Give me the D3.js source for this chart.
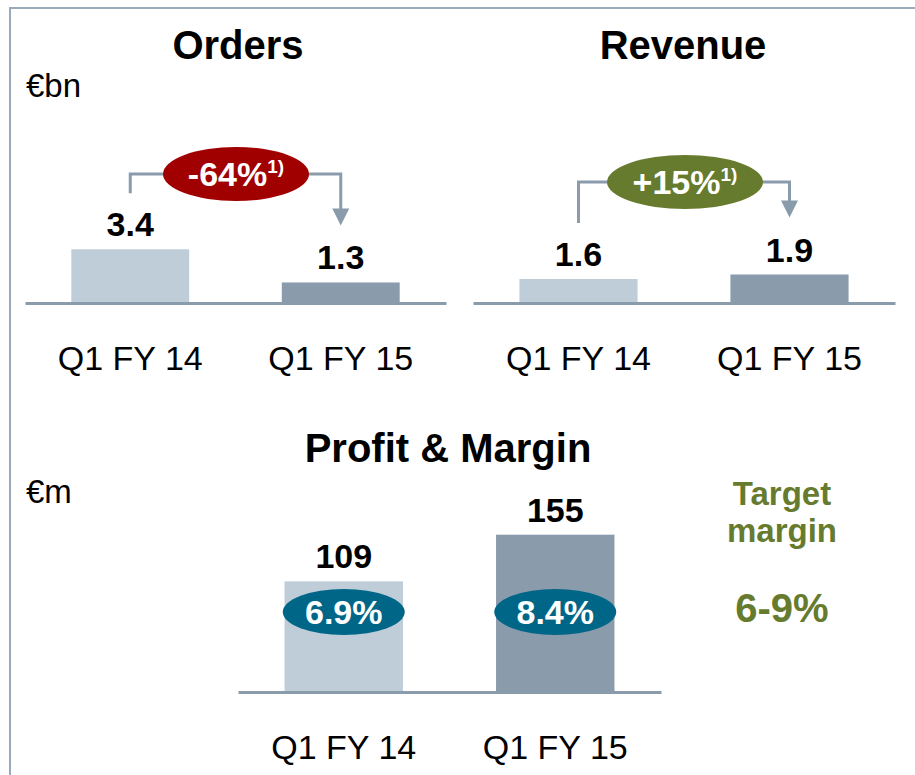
<!DOCTYPE html>
<html>
<head>
<meta charset="utf-8">
<script src="https://cdn.jsdelivr.net/npm/d3@7.8.5/dist/d3.min.js"></script>
<style>
  body { margin: 0; background: #fff; }
  svg { display: block; font-family: "Liberation Sans", Arial, sans-serif; }
</style>
</head>
<body>
<div id="chart"></div>
<script>
// data
const periods = ["Q1 FY 14", "Q1 FY 15"];
const orders = [3.4, 1.3];
const revenue = [1.6, 1.9];
const profit = [109, 155];
const margins = ["6.9%", "8.4%"];
const changeOrders = "-64%";
const changeRevenue = "+15%";
const targetMargin = "6-9%";

const W = 915, H = 775;
const lightBar = "#bfcdd8", darkBar = "#8a9cab";
const lineCol = "#8a9cab";

const svg = d3.select("#chart").append("svg")
    .attr("width", W)
    .attr("height", H);

// frame
svg.append("path")
    .attr("d", `M10,${H} L10,8 L${W},8`)
    .attr("fill", "none")
    .attr("stroke", "#9aaab8")
    .attr("stroke-width", 2);

function drawPanel(opts) {
    const { x0, x1, base, pxPerUnit, values, title, titleX, titleY, fmt } = opts;
    const g = svg.append("g");

    const x = d3.scaleBand()
        .domain(periods)
        .range([x0, x1])
        .paddingInner(0.44)
        .paddingOuter(0.22);

    const maxV = d3.max(values);
    const y = d3.scaleLinear()
        .domain([0, maxV])
        .range([base, base - maxV * pxPerUnit]);

    g.selectAll("rect.bar")
        .data(values)
        .join("rect")
        .attr("class", "bar")
        .attr("x", (d, i) => x(periods[i]))
        .attr("width", x.bandwidth())
        .attr("y", d => y(d))
        .attr("height", d => base - y(d))
        .attr("fill", (d, i) => i === 0 ? lightBar : darkBar);

    g.selectAll("text.val")
        .data(values)
        .join("text")
        .attr("class", "val")
        .attr("x", (d, i) => x(periods[i]) + x.bandwidth() / 2)
        .attr("y", d => y(d) - 13)
        .attr("text-anchor", "middle")
        .style("font-size", "34px")
        .style("font-weight", "bold")
        .style("fill", "#000")
        .text(fmt);

    // axis with category labels
    const axis = g.append("g")
        .attr("transform", `translate(0,${base})`)
        .call(d3.axisBottom(x).tickSize(0).tickSizeOuter(0));
    axis.select(".domain").attr("stroke", lineCol).attr("stroke-width", 3);
    axis.selectAll("text")
        .attr("dy", null)
        .attr("y", 67)
        .style("font-size", "34px")
        .style("font-family", "'Liberation Sans', Arial, sans-serif")
        .style("fill", "#000");

    g.append("text")
        .attr("x", titleX)
        .attr("y", titleY)
        .attr("text-anchor", "middle")
        .style("font-size", "40px")
        .style("font-weight", "bold")
        .text(title);

    return { g, x, y };
}

function drawChange(p, values, label, color, ell) {
    const { g, x, y } = p;
    const cx0 = x(periods[0]) + x.bandwidth() / 2;
    const cx1 = x(periods[1]) + x.bandwidth() / 2;
    const startY = y(values[0]) - 56;
    const tipY = y(values[1]) - 57;
    g.append("path")
        .attr("d", `M${cx0},${startY} V${ell.cy} H${cx1} V${tipY - 16}`)
        .attr("fill", "none")
        .attr("stroke", lineCol)
        .attr("stroke-width", 3);
    g.append("path")
        .attr("d", `M${cx1 - 8.5},${tipY - 17} L${cx1 + 8.5},${tipY - 17} L${cx1},${tipY} Z`)
        .attr("fill", lineCol);
    g.append("ellipse")
        .attr("cx", ell.cx)
        .attr("cy", ell.cy)
        .attr("rx", ell.rx)
        .attr("ry", 27)
        .attr("fill", color);
    const t = g.append("text")
        .attr("x", ell.cx)
        .attr("y", ell.cy + 12)
        .attr("text-anchor", "middle")
        .style("font-size", "34px")
        .style("font-weight", "bold")
        .style("fill", "#fff");
    t.append("tspan").text(label);
    t.append("tspan")
        .attr("dy", -13)
        .style("font-size", "19px")
        .text("1)");
}

// Orders
const pOrders = drawPanel({
    x0: 25, x1: 446, base: 303, pxPerUnit: 15.8, values: orders,
    title: "Orders", titleX: 238, titleY: 59, fmt: d => d.toFixed(1)
});
drawChange(pOrders, orders, changeOrders, "#a00000", { cx: 236, cy: 174, rx: 73 });

// Revenue
const pRev = drawPanel({
    x0: 473, x1: 895, base: 303, pxPerUnit: 15.0, values: revenue,
    title: "Revenue", titleX: 683, titleY: 59, fmt: d => d.toFixed(1)
});
drawChange(pRev, revenue, changeRevenue, "#667b2e", { cx: 685, cy: 182, rx: 78 });

// Profit & Margin
const pProfit = drawPanel({
    x0: 238, x1: 661, base: 692, pxPerUnit: 1.015, values: profit,
    title: "Profit & Margin", titleX: 448, titleY: 462, fmt: d => d
});
pProfit.g.selectAll("g.margin")
    .data(margins)
    .join("g")
    .attr("class", "margin")
    .attr("transform", (d, i) => `translate(${pProfit.x(periods[i]) + pProfit.x.bandwidth() / 2},612)`)
    .call(s => s.append("ellipse")
        .attr("rx", 61).attr("ry", 23).attr("fill", "#006688"))
    .call(s => s.append("text")
        .attr("y", 12)
        .attr("text-anchor", "middle")
        .style("font-size", "34px")
        .style("font-weight", "bold")
        .style("fill", "#fff")
        .text(d => d));

// units
svg.append("text").attr("x", 26).attr("y", 97)
    .style("font-size", "33px").text("€bn");
svg.append("text").attr("x", 26).attr("y", 503)
    .style("font-size", "33px").text("€m");

// target margin
const tm = svg.append("g").style("fill", "#667b2e").style("font-weight", "bold")
    .attr("text-anchor", "middle");
tm.append("text").attr("x", 782).attr("y", 505).style("font-size", "33px").text("Target");
tm.append("text").attr("x", 782).attr("y", 542).style("font-size", "33px").text("margin");
tm.append("text").attr("x", 782).attr("y", 622).style("font-size", "40px").text(targetMargin);
</script>
</body>
</html>
